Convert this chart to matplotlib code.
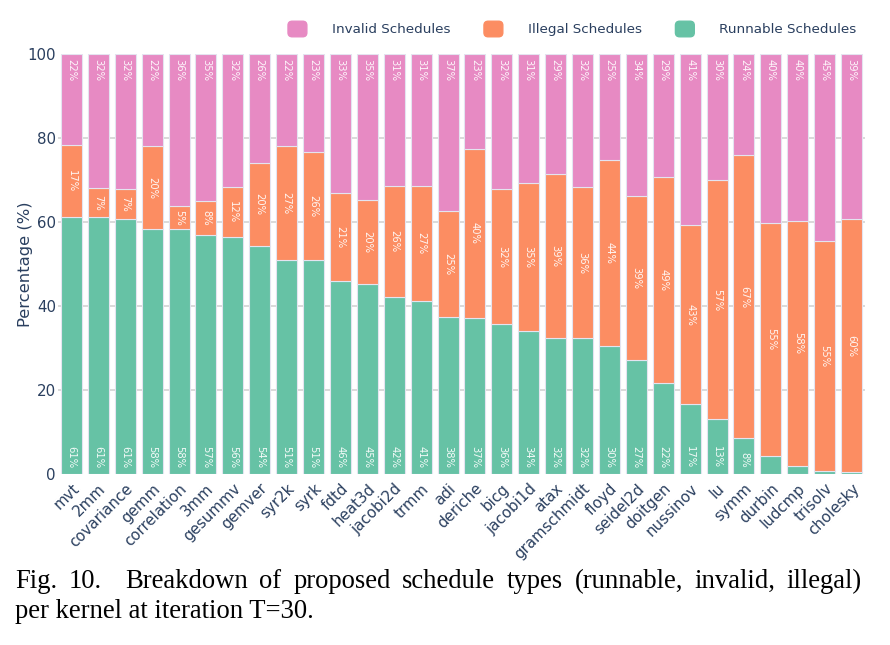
import numpy as np
import matplotlib.pyplot as plt
from matplotlib.patches import Patch, FancyBboxPatch
from matplotlib.legend_handler import HandlerPatch

# ---------------- Data ----------------
kernels = [
    "mvt", "2mm", "covariance", "gemm", "correlation", "3mm", "gesummv",
    "gemver", "syr2k", "syrk", "fdtd", "heat3d", "jacobi2d", "trmm", "adi",
    "deriche", "bicg", "jacobi1d", "atax", "gramschmidt", "floyd", "seidel2d",
    "doitgen", "nussinov", "lu", "symm", "durbin", "ludcmp", "trisolv",
    "cholesky",
]
runnable = [61.2, 61.1, 60.7, 58.3, 58.3, 57.0, 56.4, 54.4, 51.0, 51.0,
            46.0, 45.3, 42.2, 41.2, 37.5, 37.2, 35.6, 34.0, 32.4, 32.3,
            30.4, 27.1, 21.7, 16.6, 13.1, 8.5, 4.4, 1.9, 0.8, 0.5]
illegal = [17.1, 7.0, 7.2, 19.8, 5.4, 8.0, 11.9, 19.6, 27.0, 25.7,
           21.0, 20.0, 26.4, 27.4, 25.2, 40.2, 32.2, 35.3, 39.0, 36.0,
           44.3, 39.2, 49.0, 42.6, 56.8, 67.4, 55.4, 58.4, 54.6, 60.1]
invalid = [100 - r - i for r, i in zip(runnable, illegal)]

caption_1 = "Fig. 10.  Breakdown of proposed schedule types (runnable, invalid, illegal)"
caption_2 = "per kernel at iteration T=30."

# ---------------- Style ----------------
GREEN = "#66c2a5"
ORANGE = "#fc8d62"
PINK = "#e78ac3"
INK = "#2a3f5f"
plt.rcParams["font.family"] = ["DejaVu Sans"]

W, H = 890, 645
fig = plt.figure(figsize=(W / 100, H / 100), dpi=100)
ax = fig.add_axes([58 / W, 1 - 474 / H, 807 / W, 420 / H])

x = np.arange(len(kernels))
width = 0.78
edge = dict(edgecolor="#e4e4f0", linewidth=0.8, zorder=3)

runnable = np.array(runnable)
illegal = np.array(illegal)
invalid = np.array(invalid)

ax.bar(x, runnable, width, color=GREEN, **edge)
ax.bar(x, illegal, width, bottom=runnable, color=ORANGE, **edge)
ax.bar(x, invalid, width, bottom=runnable + illegal, color=PINK, **edge)

# ---------------- Segment labels ----------------
lab = dict(rotation=-90, color="white", alpha=0.92, fontsize=7.2, ha="center", zorder=4)
for xi, r, il, iv in zip(x, runnable, illegal, invalid):
    if r >= 5:
        ax.text(xi, 1.4, f"{r:.0f}%", va="bottom", **lab)
    if il >= 5:
        ax.text(xi, r + il / 2, f"{il:.0f}%", va="center", **lab)
    if iv >= 5:
        ax.text(xi, 98.8, f"{iv:.0f}%", va="top", **lab)

# ---------------- Axes ----------------
ax.set_xlim(-0.5, len(kernels) - 0.5)
ax.set_ylim(0, 100)
ax.set_yticks([0, 20, 40, 60, 80, 100])
ax.set_xticks(x)
ax.set_xticklabels(kernels, rotation=45, ha="right", rotation_mode="anchor")
ax.tick_params(axis="both", length=0, labelcolor=INK, labelsize=10.8)
ax.tick_params(axis="x", pad=5)
ax.tick_params(axis="y", pad=1.5)
for y in [20, 40, 60, 80]:
    ax.axhline(y, color="#d9d9d9", linewidth=1.4, zorder=1)
for s in ax.spines.values():
    s.set_visible(False)
ax.set_ylabel("Percentage (%)", color=INK, fontsize=11.8)
ax.yaxis.set_label_coords(-25 / 807, 0.5)


# ---------------- Legend ----------------
def rounded_square(legend, orig_handle, xdescent, ydescent, width, height, fontsize):
    return FancyBboxPatch(
        (-xdescent + 1.5, -ydescent + 1.5), width - 3, height - 3,
        boxstyle="round,pad=1.5,rounding_size=3",
    )


handles = [Patch(color=c) for c in (PINK, ORANGE, GREEN)]
fig.legend(
    handles,
    ["Invalid Schedules", "Illegal Schedules", "Runnable Schedules"],
    loc="center left",
    bbox_to_anchor=(288 / W, 1 - 29 / H),
    ncol=3,
    frameon=False,
    fontsize=9.7,
    labelcolor=INK,
    handlelength=1.4,
    handleheight=1.4,
    handletextpad=1.85,
    columnspacing=2.5,
    borderpad=0,
    borderaxespad=0,
    handler_map={Patch: HandlerPatch(patch_func=rounded_square)},
)

# ---------------- Caption (line 1 justified) ----------------
cap = dict(family=["Liberation Serif", "DejaVu Serif"], fontsize=19.2, color="black", va="baseline")
renderer = fig.canvas.get_renderer()
words = caption_1.replace("  ", " ").split(" ")
widths = []
for w in words:
    t = fig.text(0, 0, w, **cap)
    widths.append(t.get_window_extent(renderer).width)
    t.remove()
left, right = 15, 862
# wider gap after "Fig. 10."
weights = [1.0, 2.0] + [1.0] * (len(words) - 3)
gap = (right - left - sum(widths)) / sum(weights)
xpos = left
for k, w in enumerate(words):
    fig.text(xpos / W, 1 - 588 / H, w, **cap)
    if k < len(weights):
        xpos += widths[k] + gap * weights[k]
fig.text(left / W, 1 - 618 / H, caption_2, **cap)

fig.savefig("out.png", dpi=100)
